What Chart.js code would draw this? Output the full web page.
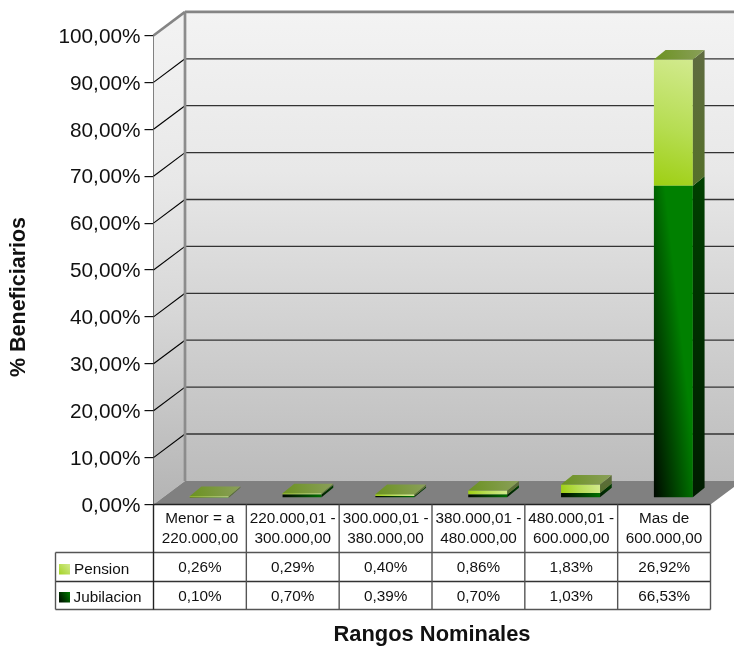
<!DOCTYPE html>
<html><head><meta charset="utf-8">
<style>html,body{margin:0;padding:0;background:#fff}#w{position:relative;width:734px;height:646px}canvas{display:block}</style>
<script src="https://cdn.jsdelivr.net/npm/chart.js@4"></script>
</head><body><div id="w"><canvas id="c" width="734" height="646"></canvas></div>
<script>
const categories = [["Menor = a","220.000,00"],["220.000,01 -","300.000,00"],["300.000,01 -","380.000,00"],["380.000,01 -","480.000,00"],["480.000,01 -","600.000,00"],["Mas de","600.000,00"]];
const pension = [0.26,0.29,0.40,0.86,1.83,26.92];
const jubilacion = [0.10,0.70,0.39,0.70,1.03,66.53];
const fontName = '"Liberation Sans", Arial, sans-serif';
const fmt = v => v.toFixed(2).replace('.',',')+'%';
const WALL_DX=31.5, WALL_DY=23.6, BAR_DX=9.3, BAR_DY=6.6, DEPTH_X=11.7, DEPTH_Y=9.6;
const BOX={left:153.5,right:710.5,top:35.5,bottom:504.5};
const LEG_X=55.5, ROW1=552.5, ROW2=581.5, ROW3=609.5;

function poly(ctx,pts,fill){ctx.beginPath();pts.forEach((p,i)=>i?ctx.lineTo(p[0],p[1]):ctx.moveTo(p[0],p[1]));ctx.closePath();ctx.fillStyle=fill;ctx.fill();}
function line(ctx,x1,y1,x2,y2,col,w){ctx.beginPath();ctx.moveTo(x1,y1);ctx.lineTo(x2,y2);ctx.strokeStyle=col;ctx.lineWidth=w;ctx.stroke();}
function lg(ctx,x0,y0,x1,y1,stops){const g=ctx.createLinearGradient(x0,y0,x1,y1);stops.forEach(s=>g.addColorStop(s[0],s[1]));return g;}

function frontFill(c,isPension){
  const ch=c.chart,ctx=ch.ctx,i=c.dataIndex;
  const sx=ch.scales.x,sy=ch.scales.y;
  const solid=isPension?'#b6dd52':'#006000';
  if(!sx||!sy||i===undefined) return solid;
  const x=sx.getPixelForValue(i),hw=(sx.width/categories.length)*0.42/2;
  const j=jubilacion[i],p=pension[i];
  const yTop=sy.getPixelForValue(isPension?j+p:j),yBase=sy.getPixelForValue(isPension?j:0);
  if(![x,hw,yTop,yBase].every(Number.isFinite)) return solid;
  if(isPension){
    return lg(ctx,x-hw,yBase,x+hw,yTop,[[0,'#9ecf12'],[0.45,'#b6dd52'],[1,'#d2ea8e']]);
  }
  return lg(ctx,x-hw,yBase,x-hw+45,yBase-5,[[0,'#000800'],[1,'#008000']]);
}

const scene={
  id:'scene',
  beforeDatasetsDraw(ch){
    const ctx=ch.ctx,{left,right,top,bottom}=ch.chartArea,y=ch.scales.y;
    ctx.save();
    const bx=left+WALL_DX, W=ch.width;
    poly(ctx,[[bx,top-WALL_DY],[W,top-WALL_DY],[W,bottom-WALL_DY],[bx,bottom-WALL_DY]],lg(ctx,0,top-WALL_DY,0,bottom-WALL_DY,[[0,'#f3f3f3'],[0.34,'#e8e8e8'],[0.57,'#d8d8d8'],[1,'#bcbcbc']]));
    poly(ctx,[[left,top],[bx,top-WALL_DY],[bx,bottom-WALL_DY],[left,bottom]],lg(ctx,0,top-WALL_DY,0,bottom,[[0,'#f3f3f3'],[0.35,'#e8e8e8'],[0.6,'#d8d8d8'],[1,'#b4b4b4']]));
    poly(ctx,[[left,bottom],[right,bottom],[right+WALL_DX,bottom-WALL_DY],[bx,bottom-WALL_DY]],'#808080');
    y.ticks.forEach(t=>{
      const py=y.getPixelForValue(t.value);
      if(t.value>0&&t.value<100){
        line(ctx,left,py,bx,py-WALL_DY,'#000',1.1);
        line(ctx,bx,py-WALL_DY,W,py-WALL_DY,'#333',1.3);
      }
    });
    line(ctx,bx,top-WALL_DY,W,top-WALL_DY,'#858585',2.6);
    line(ctx,bx,top-WALL_DY,bx,bottom-WALL_DY,'#8c8c8c',2.7);
    line(ctx,left,top,bx,top-WALL_DY,'#858585',2.6);
    ctx.restore();
    ctx.save();
    ctx.translate(BAR_DX,-BAR_DY);
  },
  afterDatasetsDraw(ch){
    const ctx=ch.ctx;
    ch.getSortedVisibleDatasetMetas().forEach((m,di)=>{
      const isP=di===1;
      m.data.forEach((b,i)=>{
        const r=b.x+b.width/2,l=b.x-b.width/2,t=b.y,bs=b.base;
        poly(ctx,[[r,t],[r+DEPTH_X,t-DEPTH_Y],[r+DEPTH_X,bs-DEPTH_Y],[r,bs]],
          isP?lg(ctx,0,t-DEPTH_Y,0,bs,[[0,'#5f6b40'],[1,'#55702a']]):lg(ctx,0,t-DEPTH_Y,0,bs,[[0,'#004000'],[1,'#001c00']]));
        if(isP) poly(ctx,[[l,t],[r,t],[r+DEPTH_X,t-DEPTH_Y],[l+DEPTH_X,t-DEPTH_Y]],lg(ctx,l,t,r+DEPTH_X,t-DEPTH_Y,[[0,'#6b9220'],[1,'#8a9f5a']]));
      });
    });
    ctx.restore();
    // data table
    ctx.save();
    const {left,right,bottom}=ch.chartArea,colW=(right-left)/categories.length,col='#555';
    line(ctx,left,bottom,right,bottom,'#222',1.4);
    line(ctx,LEG_X,ROW1,right,ROW1,col,1.4);
    line(ctx,LEG_X,ROW2,right,ROW2,'#333',1.4);
    line(ctx,LEG_X,ROW3,right,ROW3,col,1.4);
    line(ctx,LEG_X,ROW1,LEG_X,ROW3,col,1.4);
    line(ctx,left,bottom,left,ROW3,'#222',1.4);
    for(let i=1;i<=categories.length;i++){const x=left+i*colW;line(ctx,x,bottom,x,ROW3,col,1.4);}
    ctx.font='15.3px '+fontName;ctx.fillStyle='#111';ctx.textBaseline='middle';ctx.textAlign='center';
    categories.forEach((_,i)=>{
      const x=left+(i+0.5)*colW;
      ctx.fillText(fmt(pension[i]),x,567.5);
      ctx.fillText(fmt(jubilacion[i]),x,596.5);
    });
    ctx.textAlign='left';
    ctx.fillText('Pension',74,570);
    ctx.fillText('Jubilacion',73.5,598);
    ctx.fillStyle=lg(ctx,59,574,70,564,[[0,'#a5d327'],[1,'#d2ea8e']]);ctx.fillRect(59,564,11,10.5);
    ctx.fillStyle=lg(ctx,59,598,70,592,[[0,'#001800'],[1,'#007c00']]);ctx.fillRect(59,592,11,10.5);
    ctx.restore();
  }
};

function nudge(s,fn,dx,dy){const orig=s[fn];s[fn]=function(...a){const c=this.ctx;c.save();c.translate(dx,dy);orig.apply(this,a);c.restore();};}

new Chart(document.getElementById('c'),{
  type:'bar',
  data:{labels:categories,datasets:[
    {label:'Jubilacion',data:jubilacion,backgroundColor:c=>frontFill(c,false),borderWidth:0,clip:false,categoryPercentage:1,barPercentage:0.42},
    {label:'Pension',data:pension,backgroundColor:c=>frontFill(c,true),borderWidth:0,clip:false,categoryPercentage:1,barPercentage:0.42}
  ]},
  plugins:[scene],
  options:{
    responsive:false,animation:false,
    layout:{padding:{left:0,right:734-BOX.right,top:BOX.top,bottom:0}},
    plugins:{legend:{display:false},tooltip:{enabled:false},title:{display:false}},
    scales:{
      x:{stacked:true,
        afterFit(s){
          s.height=646-BOX.bottom;
          if(!s.$n){s.$n=true;nudge(s,'drawTitle',0,2);}
        },
        grid:{display:false,drawTicks:false},border:{display:false},
        ticks:{maxRotation:0,minRotation:0,autoSkip:false,padding:4,color:'#111',font:{family:fontName,size:15.3,lineHeight:1.3}},
        title:{display:true,text:'Rangos Nominales',color:'#111',font:{family:fontName,size:21.9,weight:'bold'},padding:{top:0,bottom:0}}
      },
      y:{stacked:true,min:0,max:100,
        afterFit(s){
          s.width=BOX.left;
          if(!s.$n){s.$n=true;nudge(s,'drawTitle',2,27);nudge(s,'drawLabels',0,1.5);}
        },
        afterBuildTicks(s){s.ticks=[0,10,20,30,40,50,60,70,80,90,100].map(v=>({value:v}));},
        grid:{drawOnChartArea:false,drawTicks:true,tickLength:9,color:'#111',lineWidth:1.2},
        border:{display:true,color:'#111',width:1.4},
        ticks:{padding:4,color:'#111',font:{family:fontName,size:20.8},callback:v=>fmt(v)},
        title:{display:true,text:'% Beneficiarios',color:'#111',font:{family:fontName,size:21.5,weight:'bold'},padding:{top:4,bottom:0}}
      }
    }
  }
});
</script></body></html>
